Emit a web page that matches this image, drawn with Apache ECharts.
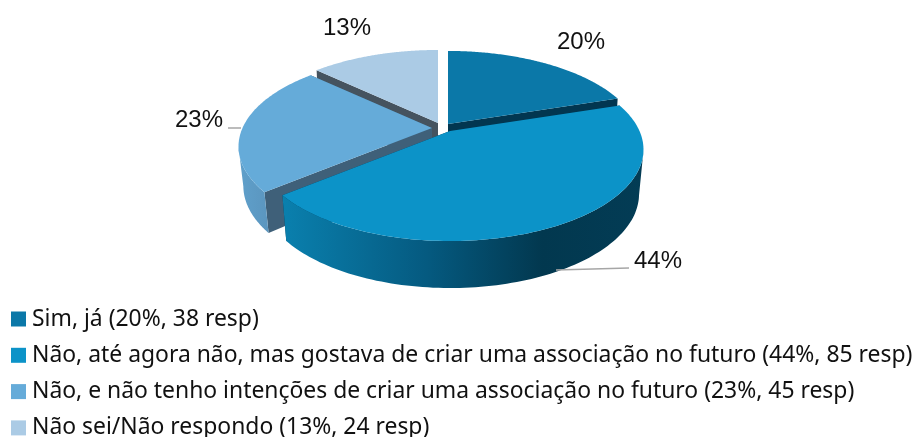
<!DOCTYPE html>
<html><head><meta charset="utf-8">
<style>html,body{margin:0;padding:0;background:#fff}#c{width:914px;height:437px}</style>
<script src="https://cdn.jsdelivr.net/npm/echarts@6/dist/echarts.min.js"></script>
</head><body><div id="c"></div>
<script>
const categories = [
  'Sim, já (20%, 38 resp)',
  'Não, até agora não, mas gostava de criar uma associação no futuro (44%, 85 resp)',
  'Não, e não tenho intenções de criar uma associação no futuro (23%, 45 resp)',
  'Não sei/Não respondo (13%, 24 resp)'
];
const percentValues = [20, 44, 23, 13];
const topColors  = ['#0b78a8', '#0c93c8', '#65abd9', '#abcbe5'];
const innerColors = ['#023650', '#023650', '#3f6079', '#45535f'];
const wallStops = [
  [[0,'#0a6f99'],[1,'#023650']],
  [[0,'#0a80ae'],[0.4,'#055a80'],[0.72,'#02384f'],[1,'#033c55']],
  [[0,'#5fa0cb'],[1,'#5587ae']],
  [[0,'#8fb0cc'],[1,'#8fb0cc']]
];
// layout of each exploded slice: apex pixel
const apexes = [[448,124],[450,131],[432,128],[438,123]];
const depths = [47,47,42,47];
const shrinks = [0.985,0.977,0.975,0.985];
const drawOrder = [2,4,3,1];
const labelPos = [[581,42],[658,261],[199,120],[347,28]];
const leaders = [null,[[556,270],[629,268]],[[228,128],[241,128]],null];

const RX = 189.5, RY = 87.8, K = 0.202;
const total = percentValues.reduce((a,b)=>a+b,0);

function project(ang){
  const u = Math.sin(ang), v = Math.cos(ang), w = 1 + K*v;
  return [RX*u/w, -RY*v/w];
}
function sliceRender(i){
  return function(params, api){
    const val = api.value(0);
    let before = 0; for(let j=0;j<i;j++) before += percentValues[j];
    const a0 = before/total*2*Math.PI, a1 = (before+val)/total*2*Math.PI;
    const [ax,ay] = apexes[i];
    const rim = [], rimLow = [], wallTop = [], wallLow = [];
    const n = 120;
    for(let s=0;s<=n;s++){
      const ang = a0+(a1-a0)*s/n;
      const p = project(ang);
      rim.push([ax+p[0], ay+p[1]]);
      const dep = depths[i] - 6*(1-(p[1]/110+1)/2);
      const low = [ax+p[0]*shrinks[i], ay+p[1]+dep];
      rimLow.push(low);
      if(Math.cos(ang) <= -K){ wallTop.push(rim[s]); wallLow.push(low); }
    }
    const xs = rim.map(p=>p[0]);
    const grad = new echarts.graphic.LinearGradient(
      Math.min(...xs),0,Math.max(...xs),0,
      wallStops[i].map(s=>({offset:s[0],color:s[1]})), true);
    const children = [];
    const apexLow = [ax, ay+depths[i]-6];
    [0,n].forEach(idx=>{
      children.push({type:'polygon',shape:{points:[[ax,ay],rim[idx],rimLow[idx],apexLow]},
        style:{fill:innerColors[i]},z2:1});
    });
    if(wallTop.length>1) children.push({type:'polygon',shape:{points:wallTop.concat(wallLow.slice().reverse())},
      style:{fill:grad},z2:2});
    children.push({type:'polygon',shape:{points:[[ax,ay]].concat(rim)},
      style:{fill:topColors[i]},z2:3});
    if(leaders[i]) children.push({type:'polyline',shape:{points:leaders[i]},
      style:{stroke:'#a6a6a6',lineWidth:1.5,fill:null},z2:4});
    children.push({type:'text',style:{text:percentValues[i]+'%',x:labelPos[i][0],y:labelPos[i][1],
      align:'center',verticalAlign:'middle',fill:'#111',
      font:'24px "Liberation Sans", Arial, sans-serif'},z2:5});
    return {type:'group',children};
  };
}
const chart = echarts.init(document.getElementById('c'),null,{renderer:'canvas'});
chart.setOption({
  animation:false,
  backgroundColor:'#fff',
  legend:{
    orient:'vertical',left:11,top:305.5,height:300,selectedMode:false,
    itemWidth:15,itemHeight:15,itemGap:9.3,padding:0,
    icon:'rect',
    textStyle:{fontFamily:'"Noto Sans"',fontSize:22.9,color:'#111',lineHeight:27,padding:[0,0,0,1]},
    data:categories
  },
  series:categories.map((name,i)=>({
    type:'custom',coordinateSystem:'none',name,
    z:drawOrder[i],silent:true,
    itemStyle:{color:topColors[i]},
    data:[[percentValues[i]]],
    renderItem:sliceRender(i)
  }))
});
</script></body></html>
